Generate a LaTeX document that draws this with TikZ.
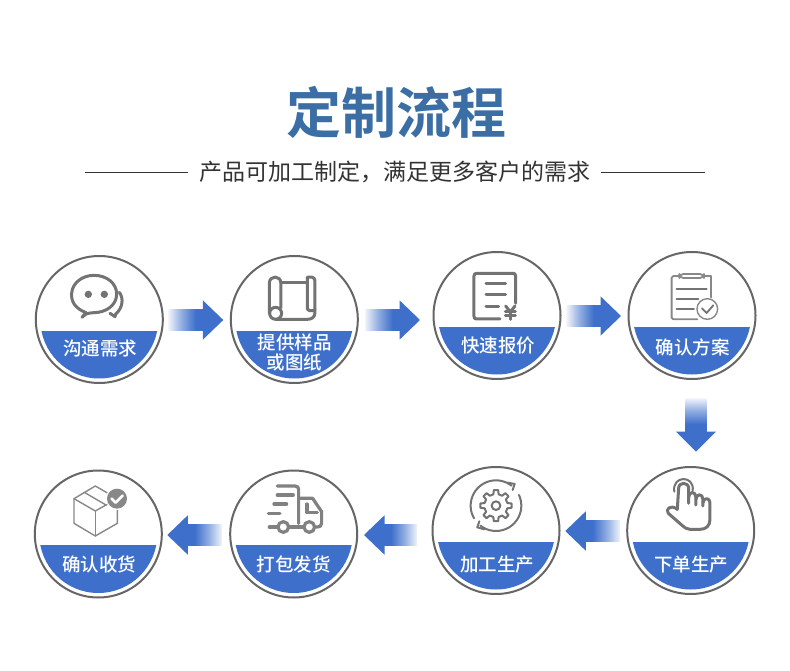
\documentclass[tikz,border=0pt]{standalone}
\usepackage{fontspec}
\setmainfont{Noto Sans CJK SC Medium}
\newfontfamily\cjkb{Noto Sans CJK SC Bold}
\newfontfamily\cjkr{Noto Sans CJK SC}
\definecolor{bandblue}{HTML}{3E70CB}
\definecolor{titleblue}{HTML}{3B6EA5}
\definecolor{ringgray}{HTML}{666666}
\definecolor{icongray}{HTML}{737373}
\definecolor{textgray}{HTML}{333333}
\pgfdeclarehorizontalshading{fadeR}{100bp}{color(0bp)=(bandblue!8);color(25bp)=(bandblue!8);color(42bp)=(bandblue!55);color(62bp)=(bandblue);color(100bp)=(bandblue)}
\pgfdeclarehorizontalshading{fadeL}{100bp}{color(0bp)=(bandblue);color(38bp)=(bandblue);color(58bp)=(bandblue!55);color(75bp)=(bandblue!8);color(100bp)=(bandblue!8)}
\pgfdeclareverticalshading{fadeD}{100bp}{color(0bp)=(bandblue);color(38bp)=(bandblue);color(58bp)=(bandblue!55);color(75bp)=(bandblue!8);color(100bp)=(bandblue!8)}
\tikzset{
  ring/.style={circle,draw=ringgray,line width=2pt,minimum size=127pt,inner sep=0pt,fill=white},
  lab/.style={text=white,font=\fontsize{18.5}{20}\selectfont,align=center,inner sep=0pt},
  ico/.style={draw=icongray,line width=3pt,line cap=round,line join=round},
  icothin/.style={draw=icongray!85,line width=1.4pt,line cap=round,line join=round},
  truckline/.style={draw=icongray!90,line width=3.2pt,line cap=round,line join=round},
  gearline/.style={draw=icongray,line width=2pt,line cap=round,line join=round},
  zA/.style={shift={(20,240)},x=.3333pt,y=-.3333pt},
  zB/.style={shift={(420,240)},x=.3333pt,y=-.3333pt},
  zC/.style={shift={(20,460)},x=.3333pt,y=-.3333pt},
  zD/.style={shift={(420,460)},x=.3333pt,y=-.3333pt},
}
\newcommand{\stepcircle}[6]{% name cx cy label-x label-y text
  \node[ring] (#1) at (#2,#3) {};
  \begin{scope}
    \clip (#2,#3) circle (59);
    \fill[bandblue] ({#2-62},{#3+11}) rectangle ({#2+62},{#3+62});
  \end{scope}
  \node[lab] (#1t) at (#4,#5) {#6};
}
\newcommand{\rightblock}[4]{% tail tip cy name
  \coordinate (#4a) at (#1,#3); \coordinate (#4b) at (#2,#3);
  \shade[shading=fadeR] (#1,{#3-10.5}) rectangle ({#2-18},{#3+10.5});
  \fill[bandblue] ({#2-20.5},{#3-19.7}) -- (#4b) -- ({#2-20.5},{#3+19.7}) -- cycle;
}
\newcommand{\leftblock}[4]{% tail tip cy name
  \coordinate (#4a) at (#1,#3); \coordinate (#4b) at (#2,#3);
  \shade[shading=fadeL] ({#2+18},{#3-10.5}) rectangle (#1,{#3+10.5});
  \fill[bandblue] ({#2+20.5},{#3-19.7}) -- (#4b) -- ({#2+20.5},{#3+19.7}) -- cycle;
}
\begin{document}
\begin{tikzpicture}[x=1pt,y=-1pt]
\useasboundingbox (0,0) rectangle (790,671);
\fill[white] (0,0) rectangle (790,671);

% heading
\node[text=titleblue,inner sep=0pt,font=\cjkb\fontsize{55}{60}\selectfont] (title) at (396.5,112) {定制流程};
\node[text=textgray,inner sep=0pt,font=\cjkr\fontsize{23}{26}\selectfont] (sub) at (395,172) {产品可加工制定，满足更多客户的需求};
\coordinate (la) at (85,172); \coordinate (lb) at (601,172);
\draw[black!80,line width=.9pt] (la) -- (188,172);
\draw[black!80,line width=.9pt] (lb) -- (705,172);

% circles
\stepcircle{s1}{99.3}{319.5}{100}{348.5}{沟通需求}
\stepcircle{s2}{294.3}{319.5}{294.5}{352.5}{提供样品\\或图纸}
\stepcircle{s3}{497}{315.5}{498}{346}{快速报价}
\stepcircle{s4}{692}{315.5}{692.5}{347}{确认方案}
\stepcircle{s8}{690.7}{530.5}{691}{564.5}{下单生产}
\stepcircle{s7}{496}{530.5}{497}{565}{加工生产}
\stepcircle{s6}{293.7}{534}{293.5}{564}{打包发货}
\stepcircle{s5}{98.3}{534}{99}{564}{确认收货}

% block arrows
\rightblock{168.3}{223.3}{320}{a1}
\rightblock{365}{420}{320}{a2}
\rightblock{566.7}{621}{316}{a3}
\leftblock{620}{565.3}{531}{a5}
\leftblock{417}{364}{535}{a6}
\leftblock{221.7}{167.3}{535}{a7}
\coordinate (a4a) at (696,398.3); \coordinate (a4b) at (696,451.7);
\shade[shading=fadeD] (685.7,398.3) rectangle (706.7,433);
\fill[bandblue] (676,431.7) -- (a4b) -- (716,431.7) -- cycle;

% icon 1: chat
\begin{scope}[zA]
  \draw[ico] (198,218) .. controls (165,205) and (153,185) .. (155,160)
    .. controls (157,128) and (188,106) .. (222,106)
    .. controls (260,106) and (290,130) .. (290,162)
    .. controls (290,198) and (255,218) .. (222,218)
    .. controls (212,218) and (205,220) .. (198,222) -- (186,232) -- cycle;
  \fill[icongray] (205,163) circle (11);
  \fill[icongray] (253,163) circle (11);
  \draw[ico] (298,157) .. controls (312,175) and (308,205) .. (287,222) -- (285,230) -- (270,220);
\end{scope}

% icon 2: scroll
\begin{scope}[zA]
  \draw[ico] (748,220) -- (748,130) .. controls (748,105) and (783,105) .. (783,130) -- (783,203);
  \draw[ico] (783,129) -- (862,129);
  \draw[ico] (862,112) -- (862,205) .. controls (862,212) and (875,215) .. (885,210);
  \draw[ico] (862,112) .. controls (870,110) and (885,110) .. (885,122) -- (885,218)
     .. controls (885,232) and (875,238) .. (862,238) -- (767,238);
  \draw[ico] (767,220) circle (18);
\end{scope}

% icon 3: document with yen
\begin{scope}[zB]
  \draw[ico] (287,190) -- (287,108) .. controls (287,102) and (284,100) .. (279,100) -- (170,100)
    .. controls (165,100) and (162,102) .. (162,108) -- (162,229) .. controls (162,235) and (165,237) .. (170,237) -- (240,237);
  \draw[ico] (198,131) -- (257,131);
  \draw[ico] (198,165) -- (257,165);
  \draw[ico] (198,200) -- (236,200);
  \draw[ico] (257,198) -- (271,216) -- (285,198);
  \draw[ico] (271,216) -- (271,238);
  \draw[ico] (256,216) -- (286,216);
  \draw[ico] (256,227) -- (286,227);
\end{scope}

% icon 4: clipboard
\begin{scope}[zB]
  \draw[icothin,line width=1.8pt] (872,172) -- (872,108) -- (852,108);
  \draw[icothin,line width=1.8pt] (778,108) -- (760,108) .. controls (757,108) and (755,110) .. (755,113) -- (755,233)
     .. controls (755,236) and (757,238) .. (760,238) -- (832,238);
  \draw[icothin,line width=1.8pt,rounded corners=4pt] (778,102) rectangle (852,114);
  \draw[ico,line width=2pt] (770,146) -- (860,146);
  \draw[ico,line width=2pt] (770,176) -- (835,176);
  \draw[ico,line width=2pt] (770,207) -- (822,207);
  \draw[icothin] (862,207) circle (31);
  \draw[ico,line width=1.8pt] (846,205) -- (860,219) -- (880,196);
\end{scope}

% icon 5: box with badge
\begin{scope}[zC]
  \draw[icothin] (226,78) -- (162,116) -- (162,190) -- (226,228) -- (292,190) -- (292,116) -- cycle;
  \draw[icothin] (162,116) -- (226,153) -- (292,116);
  \draw[icothin] (226,153) -- (226,228);
  \draw[icothin] (193,97) -- (258,135);
  \fill[white] (291,116) circle (34);
  \fill[icongray!85] (291,116) circle (30);
  \draw[white,line width=2.6pt,line cap=round,line join=round] (275,116) -- (287,128) -- (308,107);
\end{scope}

% icon 6: truck
\begin{scope}[zC]
  \draw[truckline] (772,78) -- (825,78) .. controls (832,78) and (836,82) .. (836,88) -- (836,190);
  \draw[truckline] (772,105) -- (820,105);
  \draw[truckline] (762,132) -- (800,132);
  \draw[truckline] (745,160) -- (780,160);
  \draw[truckline] (836,115) -- (878,115) -- (905,155) -- (905,190) .. controls (905,198) and (900,201) .. (888,201);
  \draw[truckline] (861,132) -- (861,158) -- (892,158);
  \draw[truckline] (790,201) circle (16);
  \draw[truckline] (868,201) circle (16);
  \draw[truckline] (748,201) -- (773,201);
  \draw[truckline] (807,201) -- (851,201);
\end{scope}

% icon 7: gear
\begin{scope}[zD]
  \begin{scope}[shift={(228,137)}]
    \draw[gearline] (-8:47)
      \foreach \a in {0,45,...,315} { -- (\a-8:47) -- (\a+8:47) -- (\a+13:35) -- (\a+32:35) }
      -- cycle;
    \draw[gearline] (0,0) circle (13);
  \end{scope}
  \draw[gearline] plot[smooth,domain=150:308,samples=25] ({228+76*cos(\x)},{137+76*sin(\x)});
  \draw[gearline] (263,68) -- (284,72) -- (278,90);
  \draw[gearline] plot[smooth,domain=-25:128,samples=25] ({228+76*cos(\x)},{137+76*sin(\x)});
  \draw[gearline] (192,208) -- (172,202) -- (178,184);
\end{scope}

% icon 8: hand
\begin{scope}[zD]
  \draw[ico] (772,148) -- (776,85) .. controls (776,65) and (806,65) .. (806,85) -- (806,130);
  \draw[ico] (806,112) .. controls (806,93) and (828,93) .. (828,112) -- (828,135);
  \draw[ico] (828,118) .. controls (828,100) and (849,100) .. (849,118) -- (849,138);
  \draw[ico] (849,128) .. controls (850,112) and (870,112) .. (870,128) -- (870,178)
    .. controls (870,198) and (858,208) .. (840,208) -- (810,208) .. controls (800,208) and (795,203) .. (785,195) -- (745,160)
    .. controls (735,148) and (752,132) .. (772,148);
  \draw[gearline] (763,95) .. controls (755,45) and (825,45) .. (818,92);
\end{scope}
\end{tikzpicture}
\end{document}
